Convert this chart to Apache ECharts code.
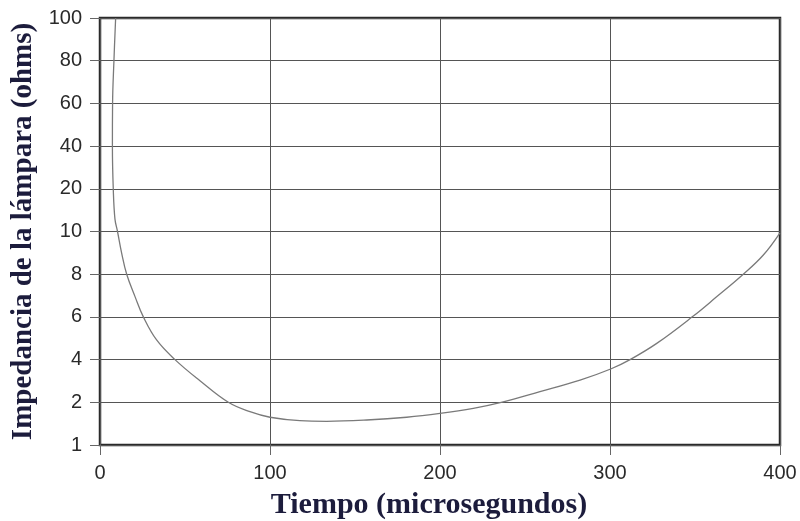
<!DOCTYPE html>
<html>
<head>
<meta charset="utf-8">
<script src="https://cdn.jsdelivr.net/npm/echarts@6/dist/echarts.min.js"></script>
<style>
  html, body { margin: 0; padding: 0; background: #ffffff; }
  #chart { width: 800px; height: 521px; }
</style>
</head>
<body>
<div id="chart"></div>
<script>
// Tick values of the (non-uniform) impedance axis, equally spaced on the chart
const yTickValues = [1, 2, 4, 6, 8, 10, 20, 40, 60, 80, 100];
const xTickValues = [0, 100, 200, 300, 400];

// Curve: time (microseconds) and lamp impedance (ohms)
const timeValues = [9.2, 8.2, 7.4, 7.3, 7.8, 8.8, 10.3, 12.7, 15.7, 20.6, 25.5, 33.3, 44.1, 58.8, 75.5, 88.2, 100, 117.6, 133.3, 156.9, 180.4, 200, 219.6, 236, 258.8, 282.4, 300.4, 311.8, 327.5, 349, 362.7, 378.4, 390.2, 400];
const impedanceValues = [100, 80, 60, 40, 20, 12.9, 10, 9, 8, 6.95, 6, 4.92, 4, 3.01, 2, 1.78, 1.65, 1.57, 1.555, 1.585, 1.65, 1.74, 1.86, 2, 2.5, 3.04, 3.56, 4, 4.76, 6.04, 6.94, 8, 8.9, 9.94];

const xTitle = 'Tiempo (microsegundos)';
const yTitle = 'Impedancia de la lámpara (ohms)';

// Map an impedance value onto the equally spaced tick positions of the axis
function toAxis(v) {
  for (let i = 0; i < yTickValues.length - 1; i++) {
    const a = yTickValues[i], b = yTickValues[i + 1];
    if (v <= b || i === yTickValues.length - 2) {
      return i + (v - a) / (b - a);
    }
  }
}

const seriesData = timeValues.map((t, i) => [t, toAxis(impedanceValues[i])]);

const chart = echarts.init(document.getElementById('chart'), null, { renderer: 'canvas' });
chart.setOption({
  animation: false,
  backgroundColor: '#ffffff',
  grid: {
    left: 100, right: 20, top: 18, bottom: 76,
    containLabel: false,
    outerBoundsMode: 'none',
    show: true,
    borderColor: '#2a2a2a',
    borderWidth: 2.5,
    backgroundColor: 'transparent'
  },
  xAxis: {
    type: 'value',
    min: xTickValues[0],
    max: xTickValues[xTickValues.length - 1],
    interval: 100,
    name: xTitle,
    nameLocation: 'middle',
    nameGap: 45,
    nameTextStyle: {
      fontFamily: 'Liberation Serif',
      fontWeight: 'bold',
      fontSize: 30,
      color: '#1c1c3c',
      padding: [0, 22, 0, 0]
    },
    axisLine: { show: false },
    axisTick: { show: true, inside: false, length: 10, lineStyle: { color: '#666', width: 1 } },
    axisLabel: {
      margin: 18,
      fontFamily: 'Liberation Sans',
      fontSize: 20,
      color: '#2a2a2a'
    },
    splitLine: { show: true, lineStyle: { color: '#555', width: 1 } }
  },
  yAxis: {
    type: 'value',
    min: 0,
    max: yTickValues.length - 1,
    interval: 1,
    name: yTitle,
    nameLocation: 'middle',
    nameGap: 62,
    nameRotate: 90,
    nameTextStyle: {
      fontFamily: 'Liberation Serif',
      fontWeight: 'bold',
      fontSize: 29,
      color: '#1c1c3c'
    },
    axisLine: { show: false },
    axisTick: { show: true, inside: false, length: 10, lineStyle: { color: '#666', width: 1 } },
    axisLabel: {
      margin: 18,
      fontFamily: 'Liberation Sans',
      fontSize: 20,
      color: '#2a2a2a',
      formatter: function (val) { return String(yTickValues[Math.round(val)]); }
    },
    splitLine: { show: true, lineStyle: { color: '#555', width: 1 } }
  },
  series: [{
    type: 'line',
    data: seriesData,
    smooth: 0.4,
    symbol: 'none',
    clip: true,
    lineStyle: { color: '#7a7a7a', width: 1.3 }
  }]
});
</script>
</body>
</html>
